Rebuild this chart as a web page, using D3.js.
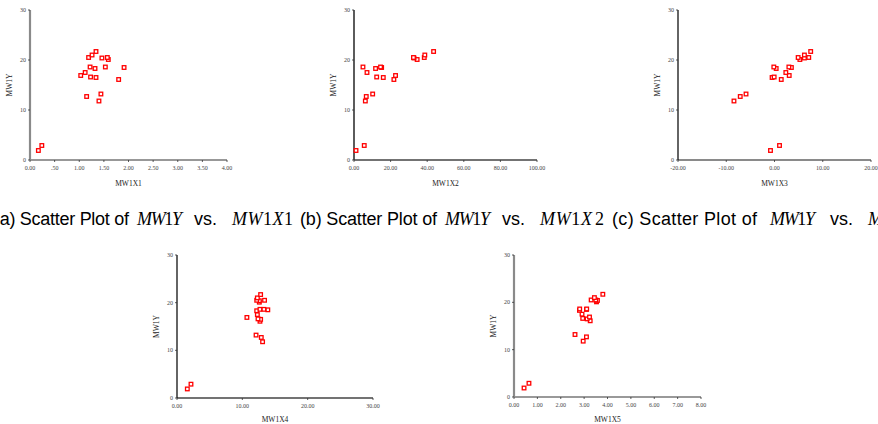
<!DOCTYPE html>
<html>
<head>
<meta charset="utf-8">
<script src="https://cdn.jsdelivr.net/npm/d3@7"></script>
<style>
  body { margin: 0; background: #fff; }
  svg { display: block; }
  .tick-label { font-family: "Liberation Serif", "DejaVu Serif", serif; font-size: 6px; fill: #444; }
  .axis-title { font-family: "Liberation Serif", "DejaVu Serif", serif; font-size: 7.5px; fill: #222; }
  .caption { font-family: "Liberation Sans", Arial, sans-serif; font-size: 18px; fill: #000; }
  .math { font-family: "Liberation Serif", "Times New Roman", serif; font-style: italic; font-size: 18px; }
</style>
</head>
<body>
<svg width="878" height="424"></svg>
<script>
// shared response
const mw1y = [1.9, 2.9, 11.8, 12.7, 13.2, 16.1, 16.5, 16.6, 16.9, 17.5,
              18.3, 18.5, 18.6, 18.6, 20.1, 20.4, 20.5, 20.5, 21.0, 21.7];

// predictors, same order as mw1y
const mw1x1 = [0.17, 0.24, 1.40, 1.15, 1.44, 1.80, 1.34, 1.23, 1.03, 1.12,
               1.32, 1.91, 1.22, 1.53, 1.59, 1.46, 1.19, 1.57, 1.26, 1.34];
const mw1x2 = [1.1, 5.6, 6.2, 6.7, 10.2, 21.8, 16.0, 12.4, 22.7, 7.1,
               11.8, 15.1, 4.9, 14.5, 34.5, 32.8, 38.4, 32.5, 38.7, 43.5];
const mw1x3 = [-0.83, 1.04, -8.4, -7.1, -5.9, 1.4, -0.5, -0.07, 3.05, 2.35,
               0.35, 3.5, -0.14, 2.98, 5.26, 6.2, 4.9, 7.1, 6.2, 7.5];
const mw1x4 = [1.58, 2.14, 13.1, 12.9, 12.1, 12.7, 12.8, 12.4, 10.7, 12.3,
               12.2, 13.9, 12.7, 13.3, 12.6, 12.6, 12.2, 13.4, 12.3, 12.8];
const mw1x5 = [0.43, 0.64, 2.96, 3.1, 2.61, 3.26, 3.13, 2.94, 3.23, 2.91,
               2.8, 3.1, 2.81, 3.11, 3.53, 3.57, 3.3, 3.5, 3.44, 3.8];

const yTicks = [0, 10, 20, 30];
const x1Ticks = [0, 0.5, 1, 1.5, 2, 2.5, 3, 3.5, 4];
const x1Labels = ["0.00", ".50", "1.00", "1.50", "2.00", "2.50", "3.00", "3.50", "4.00"];
const x2Ticks = [0, 20, 40, 60, 80, 100];
const x2Labels = ["0.00", "20.00", "40.00", "60.00", "80.00", "100.00"];
const x3Ticks = [-20, -10, 0, 10, 20];
const x3Labels = ["-20.00", "-10.00", "0.00", "10.00", "20.00"];
const x4Ticks = [0, 10, 20, 30];
const x4Labels = ["0.00", "10.00", "20.00", "30.00"];
const x5Ticks = [0, 1, 2, 3, 4, 5, 6, 7, 8];
const x5Labels = ["0.00", "1.00", "2.00", "3.00", "4.00", "5.00", "6.00", "7.00", "8.00"];

const svg = d3.select("svg");

const panels = [
  { x: mw1x1, name: "MW1X1", dom: [0, 4], ticks: x1Ticks, labels: x1Labels,
    l: 30, r: 227, t: 10, b: 160, ty: 186, yAx: ["#8a8a8a", 2.2], xAx: ["#333", 1.2] },
  { x: mw1x2, name: "MW1X2", dom: [0, 100], ticks: x2Ticks, labels: x2Labels,
    l: 354, r: 537, t: 10, b: 160, ty: 186, yAx: ["#333", 1.6], xAx: ["#444", 1.4] },
  { x: mw1x3, name: "MW1X3", dom: [-20, 20], ticks: x3Ticks, labels: x3Labels,
    l: 678, r: 871, t: 10, b: 160, ty: 186, yAx: ["#111", 1.3], xAx: ["#8a8a8a", 2] },
  { x: mw1x4, name: "MW1X4", dom: [0, 30], ticks: x4Ticks, labels: x4Labels,
    l: 177, r: 373, t: 255, b: 398, ty: 422, yAx: ["#111", 1.3], xAx: ["#444", 1.3] },
  { x: mw1x5, name: "MW1X5", dom: [0, 8], ticks: x5Ticks, labels: x5Labels,
    l: 514, r: 701, t: 255, b: 397, ty: 422, yAx: ["#8a8a8a", 2.2], xAx: ["#777", 1.6] }
];

panels.forEach(p => {
  const g = svg.append("g");
  const x = d3.scaleLinear().domain(p.dom).range([p.l, p.r]);
  const y = d3.scaleLinear().domain([0, 30]).range([p.b, p.t]);

  // x axis
  g.append("line")
    .attr("x1", p.l).attr("x2", p.r).attr("y1", p.b).attr("y2", p.b)
    .attr("stroke", p.xAx[0]).attr("stroke-width", p.xAx[1]);
  g.selectAll(".xt").data(p.ticks).enter().append("line")
    .attr("x1", d => x(d)).attr("x2", d => x(d))
    .attr("y1", p.b).attr("y2", p.b + 2)
    .attr("stroke", "#333").attr("stroke-width", 0.8);
  g.selectAll(".xl").data(p.ticks).enter().append("text")
    .attr("class", "tick-label")
    .attr("x", d => x(d)).attr("y", p.b + 10)
    .attr("text-anchor", "middle")
    .text((d, i) => p.labels[i]);

  // y axis
  g.append("line")
    .attr("x1", p.l).attr("x2", p.l).attr("y1", p.t).attr("y2", p.b)
    .attr("stroke", p.yAx[0]).attr("stroke-width", p.yAx[1]);
  g.selectAll(".yt").data(yTicks).enter().append("line")
    .attr("x1", p.l - 2).attr("x2", p.l)
    .attr("y1", d => y(d)).attr("y2", d => y(d))
    .attr("stroke", "#333").attr("stroke-width", 0.8);
  g.selectAll(".yl").data(yTicks).enter().append("text")
    .attr("class", "tick-label")
    .attr("x", p.l - 4).attr("y", d => y(d) + 2)
    .attr("text-anchor", "end")
    .text(d => d);

  // titles
  g.append("text").attr("class", "axis-title")
    .attr("x", (p.l + p.r) / 2).attr("y", p.ty)
    .attr("text-anchor", "middle").text(p.name);
  g.append("text").attr("class", "axis-title")
    .attr("transform", `translate(${p.l - 18},${(p.t + p.b) / 2}) rotate(-90)`)
    .attr("text-anchor", "middle").text("MW1Y");

  // points
  g.selectAll(".pt").data(p.x).enter().append("rect")
    .attr("x", d => x(d) - 1.8)
    .attr("y", (d, i) => y(mw1y[i]) - 1.8)
    .attr("width", 3.6).attr("height", 3.6)
    .attr("fill", "#fff")
    .attr("stroke", "#f00")
    .attr("stroke-width", 1.3);
});

// sub-figure captions: [text, x, length, isMath]
const capA = [["(a) Scatter Plot of", -6, 135, false], ["MW1Y", 137, 45, true],
              ["vs.", 194, 0, false], ["MW1X1", 232, 61, true]];
const capB = [["(b) Scatter Plot of", 300, 137, false], ["MW1Y", 445, 45, true],
              ["vs.", 502, 0, false], ["MW1X", 540, 52, true], ["2", 595, 0, true]];
const capC = [["(c) Scatter Plot of", 612, 145, false], ["MW1Y", 770, 45, true],
              ["vs.", 830, 0, false], ["M", 868, 0, true]];

[capA, capB, capC].forEach(cap => {
  const g = svg.append("g").attr("class", "caption");
  cap.forEach(([txt, cx, len, isMath]) => {
    const t = g.append("text").attr("x", cx).attr("y", 225)
      .attr("class", isMath ? "math" : null);
    if (isMath) {
      // digits upright, letters italic
      txt.split(/(\d)/).filter(s => s).forEach(s => {
        t.append("tspan").style("font-style", /\d/.test(s) ? "normal" : null).text(s);
      });
    } else {
      t.text(txt);
    }
    if (len) t.attr("textLength", len).attr("lengthAdjust", "spacing");
  });
});
</script>
</body>
</html>
